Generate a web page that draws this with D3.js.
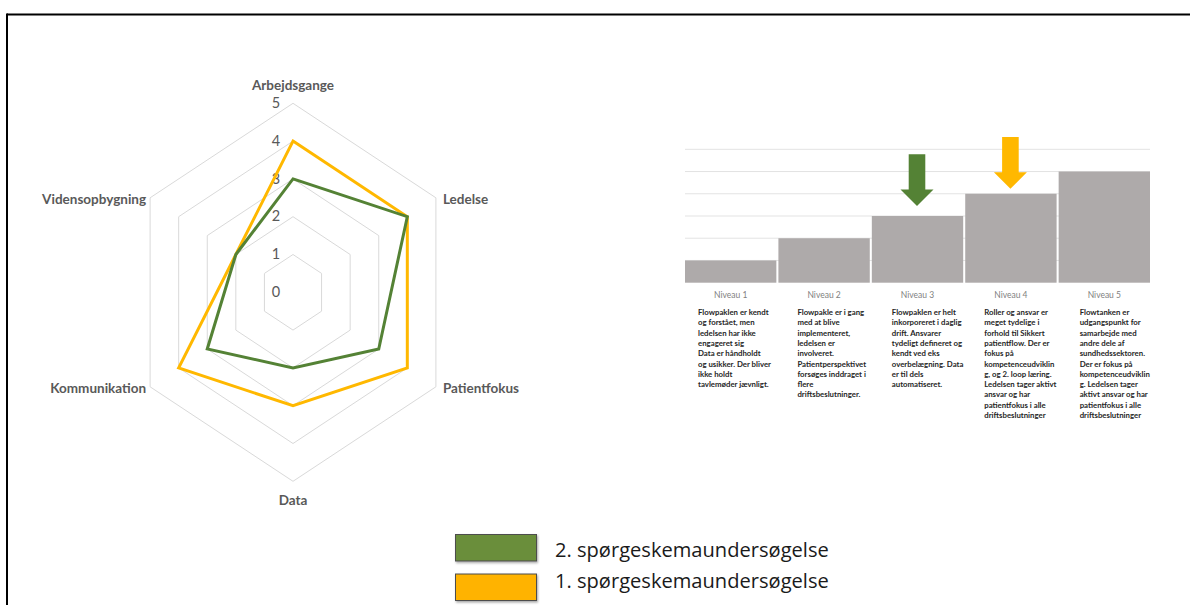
<!DOCTYPE html>
<html>
<head>
<meta charset="utf-8">
<script src="https://cdnjs.cloudflare.com/ajax/libs/d3/7.8.5/d3.min.js"></script>
<style>
  html, body { margin: 0; padding: 0; background: #fff; }
  svg { display: block; }
</style>
</head>
<body>
<svg id="chart" width="1190" height="605"></svg>
<script>
// Radar axes and scores from the two questionnaire rounds
const axes = ["Arbejdsgange", "Ledelse", "Patientfokus", "Data", "Kommunikation", "Vidensopbygning"];
const survey1 = [4, 4, 4, 3, 4, 2];
const survey2 = [3, 4, 3, 2, 3, 2];
const ringTicks = [0, 1, 2, 3, 4, 5];

// Maturity ladder (levels 1-5)
const levels = ["Niveau 1", "Niveau 2", "Niveau 3", "Niveau 4", "Niveau 5"];
const levelHeights = [1, 2, 3, 4, 5];
const levelGrid = [1, 2, 3, 4, 5, 6];
const levelTexts = [
  ["Flowpaklen er kendt", "og forstået, men", "ledelsen har ikke", "engageret sig", "Data er håndholdt", "og usikker. Der bliver", "ikke holdt", "tavlemøder jævnligt."],
  ["Flowpakle er i gang", "med at blive", "implementeret,", "ledelsen er", "involveret.", "Patientperspektivet", "forsøges inddraget i", "flere", "driftsbeslutninger."],
  ["Flowpaklen er helt", "inkorporeret i daglig", "drift.  Ansvarer", "tydeligt defineret og", "kendt ved eks", "overbelægning. Data", "er til dels", "automatiseret."],
  ["Roller og ansvar er", "meget tydelige i", "forhold til Sikkert", "patientflow. Der er", "fokus på", "kompetenceudviklin", "g, og 2. loop læring.", "Ledelsen tager aktivt", "ansvar og har", "patientfokus i alle", "driftsbeslutninger"],
  ["Flowtanken er", "udgangspunkt for", "samarbejde med", "andre dele af", "sundhedssektoren.", "Der er fokus på", "kompetenceudviklin", "g. Ledelsen tager", "aktivt ansvar og har", "patientfokus i alle", "driftsbeslutninger"]
];

// Level reached in each round (arrows above the ladder)
const arrowSeries = ["2. spørgeskemaundersøgelse", "1. spørgeskemaundersøgelse"];
const arrowLevels = [3, 4];

const legendLabels = ["2. spørgeskemaundersøgelse", "1. spørgeskemaundersøgelse"];

const colors = {
  "1. spørgeskemaundersøgelse": "#FFB800",
  "2. spørgeskemaundersøgelse": "#548235"
};
const legendFill = {
  "1. spørgeskemaundersøgelse": "#FFB300",
  "2. spørgeskemaundersøgelse": "#6A8E3A"
};

const svg = d3.select("#chart");
const font = "Lato, 'Open Sans', sans-serif";

// Frame lines (top and left)
svg.append("line").attr("x1", 7).attr("x2", 1190).attr("y1", 14.5).attr("y2", 14.5)
  .attr("stroke", "#000").attr("stroke-width", 2);
svg.append("line").attr("x1", 7).attr("x2", 7).attr("y1", 13.5).attr("y2", 605)
  .attr("stroke", "#000").attr("stroke-width", 2);

// ---------------- Radar chart ----------------
const cx = 293, cy = 292.3;
const sx = 0.873; // horizontal squeeze of the radar
const r = d3.scaleLinear().domain([0, 5]).range([0, 189]);
const angle = d3.scalePoint().domain(axes).range([0, 2 * Math.PI * (axes.length - 1) / axes.length]);

function pt(axis, v) {
  const a = angle(axis);
  return [cx + sx * r(v) * Math.sin(a), cy - r(v) * Math.cos(a)];
}

const radar = svg.append("g");

// Grid rings
radar.selectAll("path.ring")
  .data(ringTicks.filter(d => d > 0))
  .join("path")
  .attr("class", "ring")
  .attr("d", t => d3.line()(axes.map(a => pt(a, t))) + "Z")
  .attr("fill", "none")
  .attr("stroke", "#d9d9d9")
  .attr("stroke-width", 1);

// Tick labels
radar.selectAll("text.tick")
  .data(ringTicks)
  .join("text")
  .attr("class", "tick")
  .attr("x", cx - 17)
  .attr("y", t => cy - r(t) + 1)
  .attr("text-anchor", "middle")
  .attr("dominant-baseline", "middle")
  .attr("font-family", font)
  .attr("font-size", 14.5)
  .attr("fill", "#595959")
  .text(t => t);

// Series polygons (round 1 first, round 2 on top)
const series = [
  { name: "1. spørgeskemaundersøgelse", values: survey1 },
  { name: "2. spørgeskemaundersøgelse", values: survey2 }
];
radar.selectAll("path.series")
  .data(series)
  .join("path")
  .attr("class", "series")
  .attr("d", s => d3.line()(axes.map((a, i) => pt(a, s.values[i]))) + "Z")
  .attr("fill", "none")
  .attr("stroke", s => colors[s.name])
  .attr("stroke-width", 3)
  .attr("stroke-linejoin", "miter");

// Axis labels
radar.selectAll("text.axis")
  .data(axes)
  .join("text")
  .attr("class", "axis")
  .each(function (a) {
    const [x, y] = pt(a, 5);
    const ang = angle(a);
    const s = Math.sin(ang), c = Math.cos(ang);
    const el = d3.select(this);
    if (Math.abs(s) < 0.01) {
      el.attr("x", x).attr("text-anchor", "middle")
        .attr("y", c > 0 ? y - 13 : y + 24);
    } else if (s > 0) {
      el.attr("x", x + 7).attr("text-anchor", "start").attr("y", y + 3).attr("dominant-baseline", "middle");
    } else {
      el.attr("x", x - 4).attr("text-anchor", "end").attr("y", y + 3).attr("dominant-baseline", "middle");
    }
  })
  .attr("font-family", font)
  .attr("font-weight", "bold")
  .attr("font-size", 13.5)
  .attr("fill", "#595959")
  .text(a => a);

// ---------------- Maturity ladder ----------------
const bx = d3.scaleBand().domain(levels).range([685, 1150]).paddingInner(0.022).paddingOuter(0);
const by = d3.scaleLinear().domain([0, 6]).range([282.7, 149.3]);

const ladder = svg.append("g");

ladder.selectAll("line.grid")
  .data(levelGrid)
  .join("line")
  .attr("class", "grid")
  .attr("x1", 685).attr("x2", 1150)
  .attr("y1", d => by(d)).attr("y2", d => by(d))
  .attr("stroke", "#e3e3e3")
  .attr("stroke-width", 1);

ladder.selectAll("rect.bar")
  .data(levels)
  .join("rect")
  .attr("class", "bar")
  .attr("x", d => bx(d))
  .attr("width", bx.bandwidth())
  .attr("y", (d, i) => by(levelHeights[i]))
  .attr("height", (d, i) => by(0) - by(levelHeights[i]))
  .attr("fill", "#AEAAAA");

// Level names
ladder.selectAll("text.level")
  .data(levels)
  .join("text")
  .attr("class", "level")
  .attr("x", d => bx(d) + bx.bandwidth() / 2)
  .attr("y", 298)
  .attr("text-anchor", "middle")
  .attr("font-family", font)
  .attr("font-size", 8.5)
  .attr("fill", "#7f7f7f")
  .text(d => d);

// Level descriptions
const textLeft = [13, 19, 20, 19, 21];
ladder.selectAll("text.desc")
  .data(levels)
  .join("text")
  .attr("class", "desc")
  .attr("font-family", font)
  .attr("font-size", 7.8)
  .attr("font-weight", "bold")
  .attr("fill", "#262626")
  .each(function (d, i) {
    const x0 = bx(d) + textLeft[i];
    d3.select(this).selectAll("tspan")
      .data(levelTexts[i])
      .join("tspan")
      .attr("x", x0)
      .attr("y", (t, j) => 315 + j * 10.3)
      .text(t => t);
  });

// Arrows marking the level of each round
const tipGap = [10, 5];
const arrowLen = 51.7, headLen = 16.4, headHalf = 16.5, shaftHalf = 8.3;
ladder.selectAll("path.arrow")
  .data(arrowSeries)
  .join("path")
  .attr("class", "arrow")
  .attr("d", (s, i) => {
    const lvl = levels[arrowLevels[i] - 1];
    const x = bx(lvl) + bx.bandwidth() / 2 - 0.5;
    const tip = by(arrowLevels[i]) - tipGap[i];
    const top = tip - arrowLen, hb = tip - headLen;
    return `M${x - shaftHalf},${top}L${x + shaftHalf},${top}L${x + shaftHalf},${hb}L${x + headHalf},${hb}L${x},${tip}L${x - headHalf},${hb}L${x - shaftHalf},${hb}Z`;
  })
  .attr("fill", s => colors[s]);

// ---------------- Legend ----------------
const defs = svg.append("defs");
const shadow = defs.append("filter").attr("id", "shadow").attr("x", "-10%").attr("y", "-20%").attr("width", "130%").attr("height", "150%");
shadow.append("feDropShadow").attr("dx", 1).attr("dy", 1.5).attr("stdDeviation", 1).attr("flood-color", "#000").attr("flood-opacity", 0.35);

const legend = svg.append("g");
const ly = d3.scaleBand().domain(legendLabels).range([534.5, 600.5]).paddingInner(0.33);
const lt = d3.scalePoint().domain(legendLabels).range([556.5, 587.5]);
legend.selectAll("rect")
  .data(legendLabels)
  .join("rect")
  .attr("x", 455.5)
  .attr("y", d => ly(d))
  .attr("width", 81)
  .attr("height", ly.bandwidth())
  .attr("fill", d => legendFill[d])
  .attr("stroke", "#4d4d4d")
  .attr("stroke-width", 1)
  .attr("filter", "url(#shadow)");
legend.selectAll("text")
  .data(legendLabels)
  .join("text")
  .attr("x", 555)
  .attr("y", d => lt(d))
  .attr("font-family", "'Open Sans', Lato, sans-serif")
  .attr("font-size", 20.1)
  .attr("fill", "#1a1a1a")
  .text(d => d);
</script>
</body>
</html>
